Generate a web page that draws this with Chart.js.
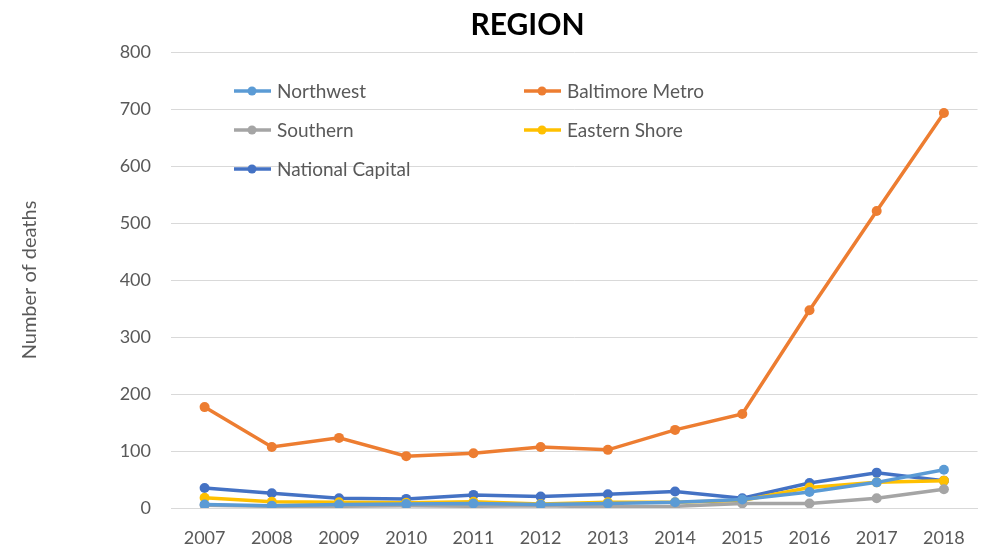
<!DOCTYPE html>
<html>
<head>
<meta charset="utf-8">
<script src="https://cdn.jsdelivr.net/npm/chart.js@4"></script>
<style>
  html, body { margin: 0; padding: 0; background: #fff; }
  #wrap { width: 984px; height: 550px; }
</style>
</head>
<body>
<div id="wrap"><canvas id="regionChart"></canvas></div>
<script>
const years = ['2007', '2008', '2009', '2010', '2011', '2012', '2013', '2014', '2015', '2016', '2017', '2018'];
const northwest = [6, 4, 6, 7, 8, 6, 8, 10, 15, 28, 45, 67];
const baltimoreMetro = [177, 107, 123, 91, 96, 107, 102, 137, 165, 347, 521, 693];
const southern = [5, 3, 3, 4, 3, 4, 2, 3, 8, 8, 17, 33];
const easternShore = [18, 11, 10, 9, 11, 7, 10, 10, 13, 36, 45, 48];
const nationalCapital = [35, 26, 17, 16, 23, 20, 24, 29, 17, 44, 62, 48];

const FONT = 'Lato, "Open Sans", sans-serif';

function series(label, data, color) {
    return {
        label: label,
        data: data,
        borderColor: color,
        backgroundColor: color,
        borderWidth: 3.5,
        pointRadius: 5,
        pointHoverRadius: 5,
        pointBorderWidth: 0,
        tension: 0
    };
}

// title sits a bit right of the canvas centre in the original, so draw it ourselves
const chartTitle = {
    id: 'chartTitle',
    afterDraw(chart) {
        const ctx = chart.ctx;
        ctx.save();
        ctx.font = 'bold 30px ' + FONT;
        ctx.fillStyle = '#000';
        ctx.textAlign = 'center';
        ctx.textBaseline = 'middle';
        ctx.fillText('REGION', (chart.chartArea.left + chart.width) / 2 - 50, 25);
        ctx.restore();
    }
};

// legend drawn inside the plot area, two columns like the original
const insideLegend = {
    id: 'insideLegend',
    afterDatasetsDraw(chart) {
        const ctx = chart.ctx;
        const left = chart.chartArea.left;
        const items = chart.data.datasets;
        const colX = [left + 63, left + 353];
        const rowY = [91, 130, 169];
        ctx.save();
        ctx.font = '19px ' + FONT;
        ctx.textBaseline = 'middle';
        items.forEach(function (ds, i) {
            const x = colX[i % 2];
            const y = rowY[Math.floor(i / 2)];
            ctx.strokeStyle = ds.borderColor;
            ctx.lineWidth = 3.5;
            ctx.beginPath();
            ctx.moveTo(x, y);
            ctx.lineTo(x + 37, y);
            ctx.stroke();
            ctx.fillStyle = ds.borderColor;
            ctx.beginPath();
            ctx.arc(x + 18, y, 4.5, 0, Math.PI * 2);
            ctx.fill();
            ctx.fillStyle = '#595959';
            ctx.fillText(ds.label, x + 43, y + 1);
        });
        ctx.restore();
    }
};

new Chart(document.getElementById('regionChart').getContext('2d'), {
    type: 'line',
    data: {
        labels: years,
        datasets: [
            series('Northwest', northwest, '#5B9BD5'),
            series('Baltimore Metro', baltimoreMetro, '#ED7D31'),
            series('Southern', southern, '#A5A5A5'),
            series('Eastern Shore', easternShore, '#FFC000'),
            series('National Capital', nationalCapital, '#4472C4')
        ]
    },
    options: {
        responsive: true,
        maintainAspectRatio: false,
        animation: false,
        layout: { padding: { left: 0, right: -10, top: 52, bottom: 0 } },
        scales: {
            x: {
                offset: true,
                grid: { display: false, drawTicks: false },
                border: { color: '#d9d9d9', width: 1 },
                ticks: { color: '#595959', font: { family: FONT, size: 18 }, padding: 19, maxRotation: 0 },
                afterFit: function (scale) { scale.height = 42; }
            },
            y: {
                min: 0,
                max: 800,
                ticks: { stepSize: 100, color: '#595959', font: { family: FONT, size: 18 }, padding: 20 },
                grid: { color: '#d9d9d9', drawTicks: false },
                border: { display: false },
                title: {
                    display: true,
                    text: 'Number of deaths',
                    color: '#595959',
                    font: { family: FONT, size: 20 },
                    padding: { top: 18, bottom: 20 }
                },
                afterFit: function (scale) { scale.width = 171; }
            }
        },
        plugins: {
            title: { display: false },
            legend: { display: false },
            tooltip: { enabled: false }
        }
    },
    plugins: [insideLegend, chartTitle]
});
</script>
</body>
</html>
